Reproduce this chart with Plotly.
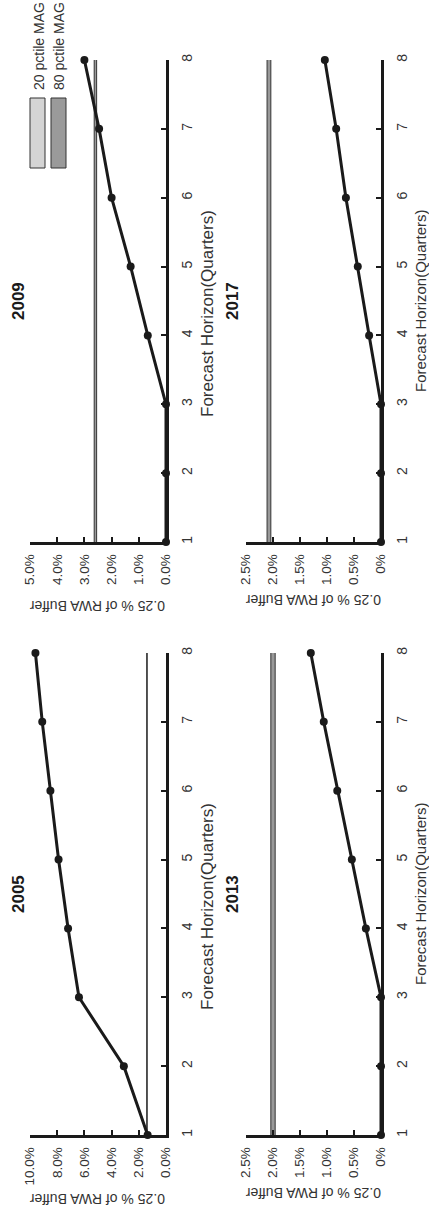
import plotly.graph_objects as go

W, H = 429, 1211

horizon = [1, 2, 3, 4, 5, 6, 7, 8]
horizon_ticks = ["1", "2", "3", "4", "5", "6", "7", "8"]

years = ["2005", "2009", "2013", "2017"]

buffer_2005 = [1.35, 3.1, 6.4, 7.2, 7.9, 8.5, 9.1, 9.6]
buffer_2009 = [0.0, 0.0, 0.0, 0.67, 1.3, 2.0, 2.46, 3.0]
buffer_2013 = [0.0, 0.0, 0.0, 0.28, 0.54, 0.81, 1.06, 1.30]
buffer_2017 = [0.0, 0.0, 0.0, 0.22, 0.43, 0.65, 0.83, 1.04]

p20_mag = {"2005": 1.38, "2009": 2.55, "2013": 1.96, "2017": 2.04}
p80_mag = {"2005": 1.42, "2009": 2.64, "2013": 2.04, "2017": 2.11}

ticks_2005 = [0, 2, 4, 6, 8, 10]
labels_2005 = ["0.0%", "2.0%", "4.0%", "6.0%", "8.0%", "10.0%"]
ticks_2009 = [0, 1, 2, 3, 4, 5]
labels_2009 = ["0.0%", "1.0%", "2.0%", "3.0%", "4.0%", "5.0%"]
ticks_small = [0, 0.5, 1.0, 1.5, 2.0, 2.5]
labels_small = ["0%", "0.5%", "1.0%", "1.5%", "2.0%", "2.5%"]

series = {"2005": buffer_2005, "2009": buffer_2009, "2013": buffer_2013, "2017": buffer_2017}
xticks = {"2005": (ticks_2005, labels_2005), "2009": (ticks_2009, labels_2009),
          "2013": (ticks_small, labels_small), "2017": (ticks_small, labels_small)}

# pixel layout (rotated chart)
col_px = {"L": (30, 166), "R": (246, 381)}
row_px = {"T": (60, 542), "B": (653, 1135)}
panel_pos = {"2005": ("L", "B"), "2009": ("L", "T"), "2013": ("R", "B"), "2017": ("R", "T")}

FONT = "Liberation Sans, Arial, sans-serif"
fig = go.Figure()
layout = dict(width=W, height=H, margin=dict(l=0, r=0, t=0, b=0, autoexpand=False),
              paper_bgcolor="white", plot_bgcolor="white", showlegend=False,
              template="none",
              font=dict(family=FONT, color="#222"))
annotations = []
shapes = []

for i, yr in enumerate(years):
    n = "" if i == 0 else str(i + 1)
    c, r = panel_pos[yr]
    x0, x1 = col_px[c]
    y0, y1 = row_px[r]
    tv, tt = xticks[yr]
    xa, ya = "x" + n, "y" + n
    # band between 20 and 80 pctile
    fig.add_trace(go.Scatter(x=[p20_mag[yr]] * len(horizon), y=horizon, mode="lines",
                             line=dict(color="#333", width=1), xaxis=xa, yaxis=ya,
                             hoverinfo="skip"))
    fig.add_trace(go.Scatter(x=[p80_mag[yr]] * len(horizon), y=horizon, mode="lines",
                             line=dict(color="#333", width=1), fill="tonextx",
                             fillcolor="#999999", xaxis=xa, yaxis=ya, hoverinfo="skip"))
    fig.add_trace(go.Scatter(x=series[yr], y=horizon, mode="lines+markers",
                             line=dict(color="#1a1a1a", width=3),
                             marker=dict(color="#1a1a1a", size=8),
                             xaxis=xa, yaxis=ya, cliponaxis=False))
    layout["xaxis" + n] = dict(domain=[x0 / W, x1 / W], range=[tv[-1], 0], anchor=ya,
                               automargin=False,
                               tickvals=tv, ticktext=tt, tickangle=-90,
                               ticks="inside", ticklen=5, tickwidth=2, tickcolor="#1a1a1a",
                               showline=True, linecolor="#1a1a1a", linewidth=2.5,
                               showgrid=False, zeroline=False, ticklabelstandoff=4,
                               tickfont=dict(size=13.5, color="#333"))
    layout["yaxis" + n] = dict(domain=[1 - y1 / H, 1 - y0 / H], range=[1, 8], anchor=xa,
                               automargin=False,
                               side="right", tickvals=horizon, ticktext=horizon_ticks,
                               tickangle=-90, ticks="inside", ticklen=5, tickwidth=2,
                               tickcolor="#1a1a1a", showline=True, linecolor="#1a1a1a",
                               linewidth=2.5, showgrid=False, zeroline=False,
                               ticklabelstandoff=6, tickfont=dict(size=14, color="#333"))
    cx = (x0 + x1) / 2
    cy = (y0 + y1) / 2
    # title
    tx = 18 if c == "L" else 232
    annotations.append(dict(text="<b>%s</b>" % yr, x=tx / W, y=1 - cy / H, xref="paper", yref="paper",
                            showarrow=False, textangle=-90, font=dict(size=17, color="#1a1a1a"),
                            xanchor="center", yanchor="middle"))
    # value axis title (upside down)
    vy = (y1 + 64) if c == "L" else (y1 + 58)
    annotations.append(dict(text="0.25 % of RWA Buffer", x=cx / W, y=1 - vy / H, xref="paper",
                            yref="paper", showarrow=False, textangle=180,
                            font=dict(size=14, color="#333"), xanchor="center", yanchor="middle"))
    # horizon title
    hx = x1 + (41 if c == "L" else 39)
    hy = cy + (13 if c == "L" else 0)
    annotations.append(dict(text="Forecast Horizon(Quarters)", x=hx / W, y=1 - hy / H, xref="paper",
                            yref="paper", showarrow=False, textangle=-90,
                            font=dict(size=17 if c == "L" else 15, color="#333"),
                            xanchor="center", yanchor="middle"))

# legend
legend_items = [("20 pctile MAG", "#d4d4d4", 30, 45, 39), ("80 pctile MAG", "#9a9a9a", 51, 66, 59)]
for label, col, lx0, lx1, tx in legend_items:
    shapes.append(dict(type="rect", xref="paper", yref="paper", x0=lx0 / W, x1=lx1 / W,
                       y0=1 - 168 / H, y1=1 - 98 / H, fillcolor=col,
                       line=dict(color="#333", width=1)))
    annotations.append(dict(text=label, x=tx / W, y=1 - 92 / H, xref="paper", yref="paper",
                            showarrow=False, textangle=-90, font=dict(size=14, color="#333"),
                            xanchor="center", yanchor="bottom"))

layout["annotations"] = annotations
layout["shapes"] = shapes
fig.update_layout(**layout)
fig.write_html("out.html", config={"displayModeBar": False},
               post_script="document.body.style.margin='0';document.body.style.padding='0';")
